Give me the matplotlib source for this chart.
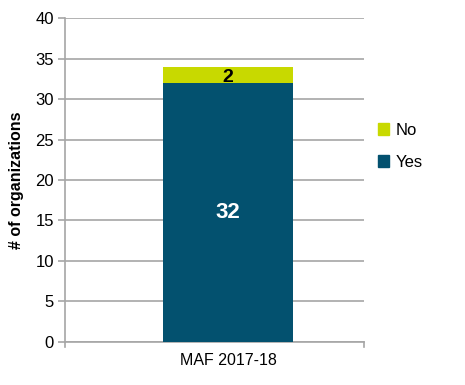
import matplotlib.pyplot as plt
from matplotlib.patches import Patch

plt.rcParams['font.family'] = ['Liberation Sans', 'DejaVu Sans']

# Data
category = ['MAF 2017-18']
yes_vals = [32]
no_vals = [2]
teal = '#03516F'
lime = '#C8D900'
grid_col = '#A6A6A6'

fig = plt.figure(figsize=(4.65, 3.85), dpi=100)
ax = fig.add_axes([0.14, 0.112, 0.643, 0.841])

ax.bar(category, yes_vals, width=0.435, color=teal, zorder=3)
ax.bar(category, no_vals, bottom=yes_vals, width=0.435, color=lime, zorder=3)

# value labels
ax.text(0, yes_vals[0] / 2, str(yes_vals[0]), ha='center', va='center',
        color='white', fontsize=16, fontweight='bold', zorder=4)
ax.text(0, yes_vals[0] + no_vals[0] / 2 - 0.3, str(no_vals[0]), ha='center', va='center',
        color='black', fontsize=14, fontweight='bold', zorder=4)

xl, xr = -0.545, 0.455
ax.set_xlim(xl, xr)
ax.set_ylim(0, 40)
ax.set_yticks(range(0, 41, 5))
ax.set_xticks([0])
ax.set_xticklabels(category, fontsize=11.5)
ax.tick_params(axis='y', labelsize=12, length=5, width=1.2, color=grid_col, pad=3)
ax.tick_params(axis='x', length=0, pad=8)
ax.grid(axis='y', color=grid_col, linewidth=1.2, zorder=0)
ax.set_axisbelow(True)

for s in ['top', 'right']:
    ax.spines[s].set_visible(False)
for s in ['left', 'bottom']:
    ax.spines[s].set_color(grid_col)
    ax.spines[s].set_linewidth(1.2)

# small ticks at the ends of the x axis
ax.plot([xl, xl], [0, -0.6], color=grid_col, lw=1.2, clip_on=False)
ax.plot([xr, xr], [0, -0.6], color=grid_col, lw=1.2, clip_on=False)

ax.set_ylabel('# of organizations', fontsize=11.5, fontweight='bold', labelpad=8)

handles = [Patch(color=lime, label='No'), Patch(color=teal, label='Yes')]
fig.legend(handles=handles, loc='center left', bbox_to_anchor=(0.78, 0.62),
           frameon=False, fontsize=12, handlelength=0.7, handleheight=0.7,
           handletextpad=0.4, labelspacing=1.0)

fig.savefig('out.png', dpi=100)
